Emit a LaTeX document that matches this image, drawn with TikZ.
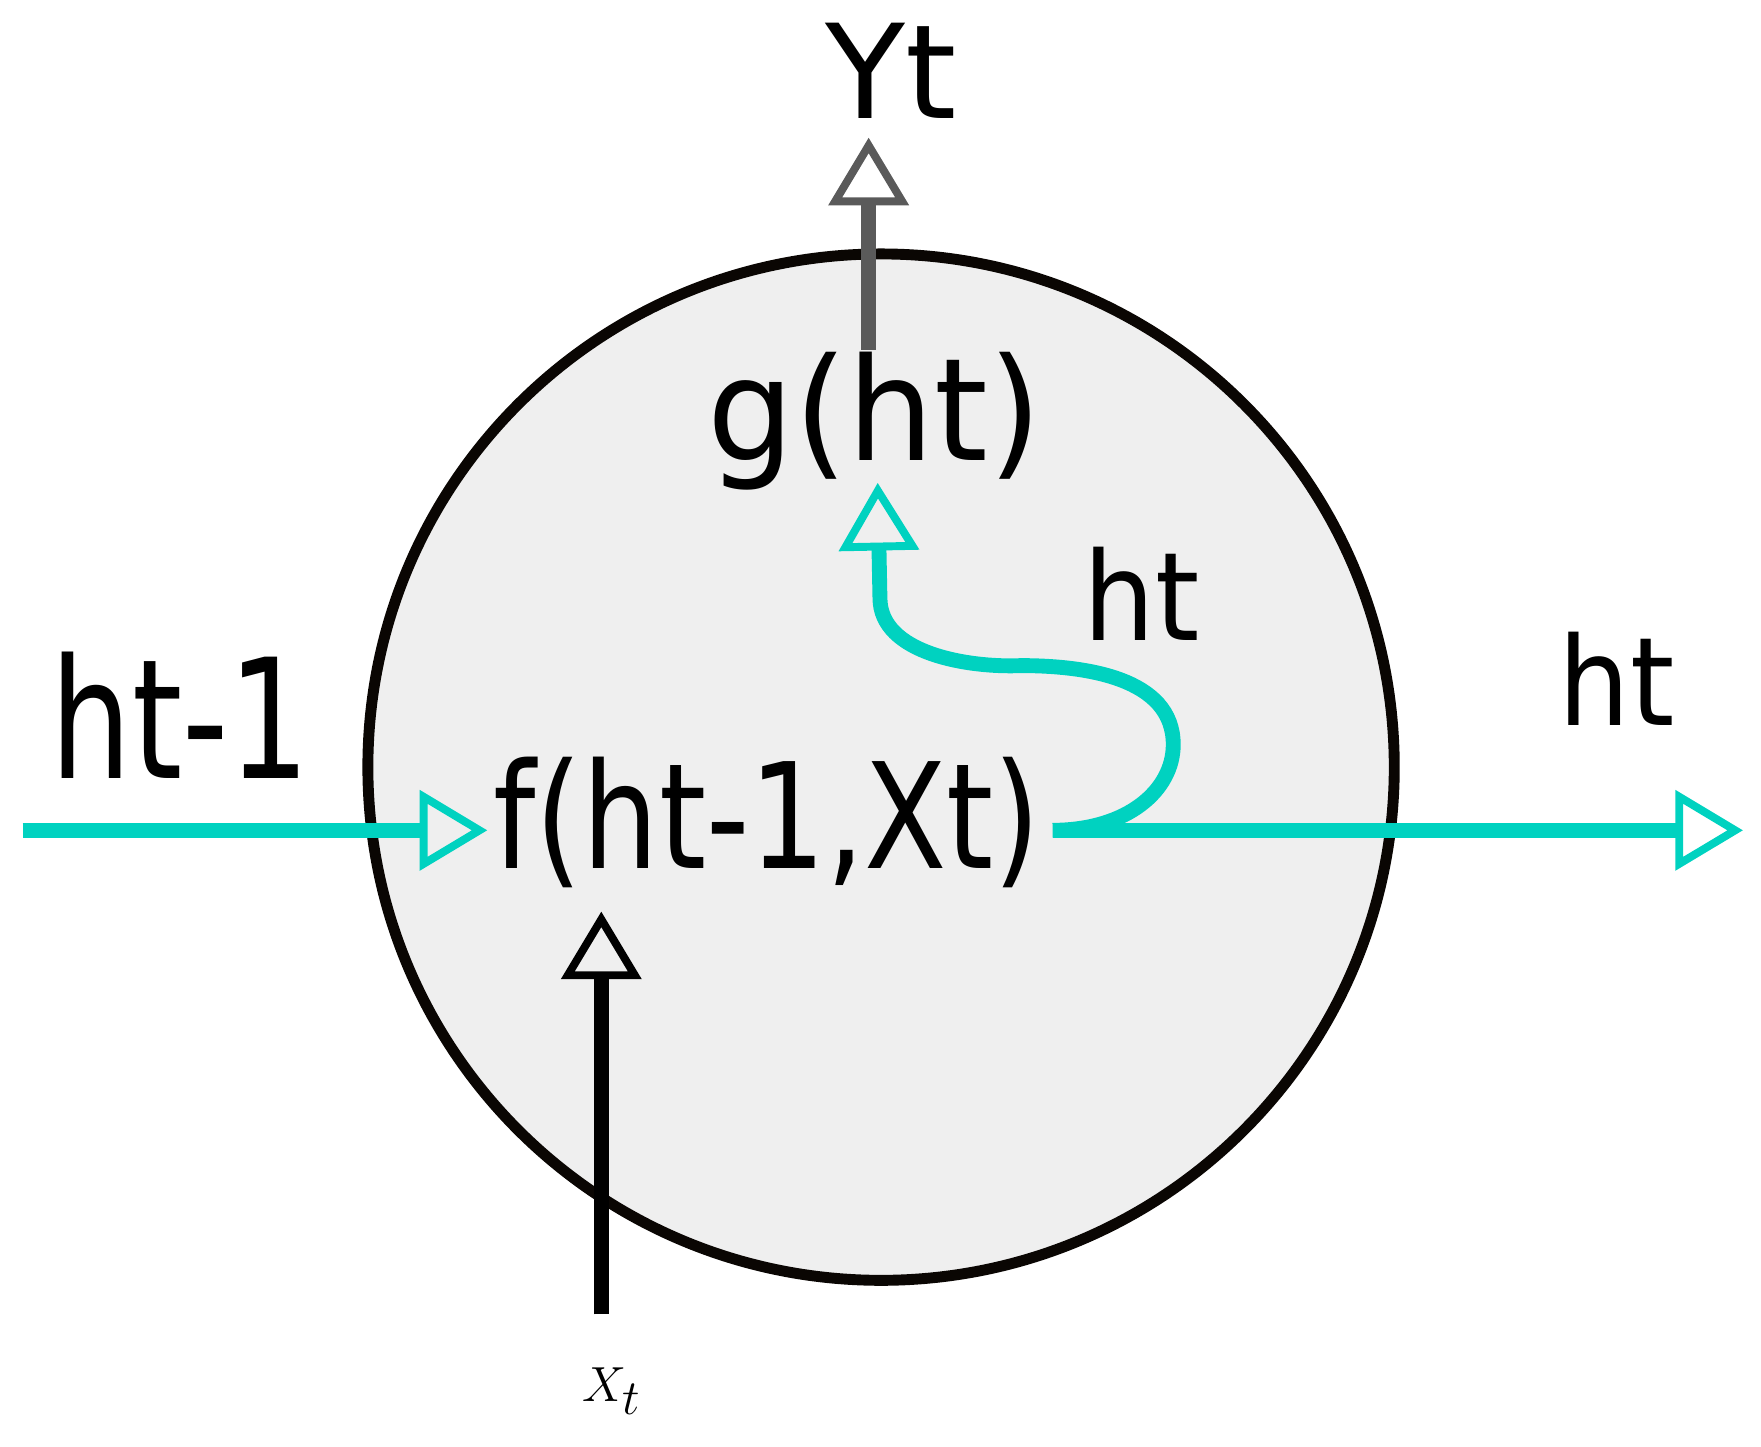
\documentclass[tikz,border=0pt]{standalone}
\usepackage{fontspec}
\setmainfont{DejaVu Sans}
\usetikzlibrary{arrows.meta}
\definecolor{teal1}{HTML}{00D2C0}
\definecolor{grayarr}{HTML}{5A5A5A}
\definecolor{cellfill}{HTML}{EFEFEF}
\tikzset{
  opentip/.style={-{Triangle[open,length=1.2cm,width=1.4cm,line width=4pt]}},
  tealline/.style={draw=teal1,line width=7.5pt,opentip},
  lbl/.style={inner sep=0pt,anchor=base,transform shape},
}
\begin{document}
\begin{tikzpicture}[x=0.02cm,y=-0.02cm]
\useasboundingbox (0,0) rectangle (1561,1282);
\node[draw=black!95!brown,line width=5.5pt,fill=cellfill,circle,minimum size=18.2cm,inner sep=0pt] (cell) at (781,680) {};
\coordinate (lin) at (20,736);
\coordinate (ltip) at (432,736);
\coordinate (rstart) at (933,736);
\coordinate (rtip) at (1545,736);
\coordinate (gtip) at (778,428);
\coordinate (ybot) at (770,310);
\coordinate (ytip) at (770,122);
\coordinate (xbot) at (533,1165);
\coordinate (xtip) at (533,808);
\draw[tealline] (lin) -- (ltip);
\draw[tealline] (rstart) -- (rtip);
\draw[tealline] (rstart) .. controls (1000,736) and (1040,700) .. (1040,660)
  .. controls (1040,600) and (960,590) .. (905,590)
  .. controls (860,592) and (780,580) .. (780,530) -- (gtip);
\draw[grayarr,line width=7.5pt,opentip] (ybot) -- (ytip);
\draw[black,line width=7.5pt,opentip] (xbot) -- (xtip);
\begin{scope}[xscale=0.82]
\node[lbl,font=\fontsize{74pt}{80pt}\selectfont] (f) at (680/0.82,770) {f(ht-1,Xt)};
\end{scope}
\begin{scope}[xscale=0.96]
\node[lbl,font=\fontsize{72pt}{80pt}\selectfont] (g) at (775/0.96,408) {g(ht)};
\end{scope}
\begin{scope}[xscale=0.77]
\node[lbl,font=\fontsize{84pt}{90pt}\selectfont] (hm1) at (160/0.77,690) {ht-1};
\end{scope}
\begin{scope}[xscale=0.92]
\node[lbl,font=\fontsize{62pt}{70pt}\selectfont] (h1) at (1012/0.92,568) {ht};
\node[lbl,font=\fontsize{62pt}{70pt}\selectfont] (h2) at (1433/0.92,643) {ht};
\end{scope}
\node[lbl,font=\fontsize{66pt}{70pt}\selectfont] (y) at (790,105) {Yt};
\node[lbl,font=\fontsize{100pt}{110pt}\selectfont] (x) at (542,1242) {$X_t$};
\end{tikzpicture}
\end{document}
